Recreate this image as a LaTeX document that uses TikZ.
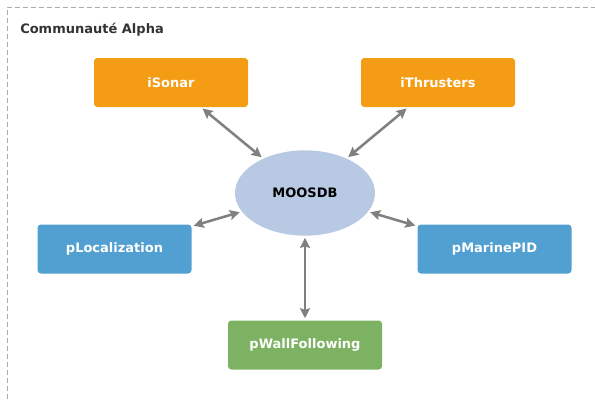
\documentclass[tikz,border=0pt]{standalone}
\usepackage{fontspec}
\setmainfont{DejaVu Sans}
\usetikzlibrary{arrows.meta,shapes.geometric}
\definecolor{orangeC}{HTML}{F49C14}
\definecolor{blueC}{HTML}{529FD1}
\definecolor{greenC}{HTML}{7DB262}
\definecolor{ellC}{HTML}{B8C9E4}
\definecolor{arrC}{HTML}{808080}
\definecolor{frameC}{HTML}{AAAAAA}
\definecolor{titleC}{HTML}{333333}
\tikzset{
  procbox/.style={rectangle, rounded corners=2.5pt, minimum width=115.5pt, minimum height=36.75pt, inner sep=0pt, text=white, font=\fontsize{9.75pt}{11pt}\selectfont\bfseries},
  orangebox/.style={procbox, fill=orangeC},
  bluebox/.style={procbox, fill=blueC},
  greenbox/.style={procbox, fill=greenC},
  dbnode/.style={ellipse, fill=ellC, minimum width=105pt, minimum height=64pt, inner sep=0pt, text=black, font=\fontsize{9.75pt}{11pt}\selectfont\bfseries},
  link/.style={draw=arrC, line width=1.9pt, {Stealth[length=7.5pt,width=7.5pt,inset=1.2pt]}-{Stealth[length=7.5pt,width=7.5pt,inset=1.2pt]}, shorten <=1.5pt, shorten >=1.5pt}
}
\begin{document}
\begin{tikzpicture}[x=0.75pt,y=-0.75pt]
\useasboundingbox (0,0) rectangle (595,400);
\draw[frameC, line width=0.75pt, dash pattern=on 4pt off 2pt] (7,407) -- (7,7) -- (602,7);
\node[anchor=base west, text=titleC, font=\fontsize{9.75pt}{11pt}\selectfont\bfseries, inner sep=0pt] (title) at (20,33) {Communauté Alpha};
\node[dbnode] (db) at (305,193) {MOOSDB};
\node[orangebox] (sonar) at (171,82.5) {iSonar};
\node[orangebox] (thr) at (438,82.5) {iThrusters};
\node[bluebox] (loc) at (114.5,249) {pLocalization};
\node[bluebox] (pid) at (494.5,249) {pMarinePID};
\node[greenbox] (wall) at (305,345) {pWallFollowing};
\draw[link] (sonar) -- (db);
\draw[link] (thr) -- (db);
\draw[link] (loc) -- (db);
\draw[link] (pid) -- (db);
\draw[link] (wall) -- (db);
\end{tikzpicture}
\end{document}
